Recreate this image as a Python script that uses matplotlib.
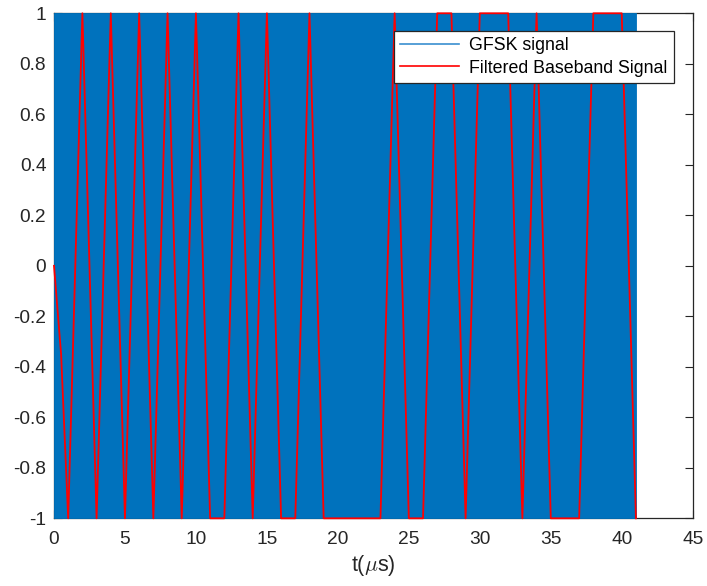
import matplotlib
matplotlib.use("Agg")
import matplotlib.pyplot as plt
from matplotlib.lines import Line2D

plt.rcParams['font.family'] = ['Liberation Sans', 'DejaVu Sans']
plt.rcParams['axes.unicode_minus'] = False
plt.rcParams['mathtext.fontset'] = 'cm'

# GFSK signal: dense carrier, visible as a solid band between its extremes
gfsk_time = [0, 41]
gfsk_max = [1, 1]
gfsk_min = [-1, -1]

# Filtered baseband signal (time in microseconds)
base_time = [0, 0.5, 1, 2, 3, 4, 5, 6, 7, 8, 9, 10, 11, 12, 13, 14, 15, 16, 17, 18, 19, 20,
             21, 22, 23, 24, 25, 26, 27, 28, 29, 30, 31, 32, 33, 34, 35, 36, 37, 38, 39, 40, 41]
base_vals = [0, -0.35, -1, 1, -1, 1, -1, 1, -1, 1, -1, 1, -1, -1, 1, -1, 1, -1, -1, 1, -1, -1,
             -1, -1, -1, 1, -1, -1, 1, 1, -1, 1, 1, 1, -1, 1, -1, -1, -1, 1, 1, 1, -1]

x_ticks = [0, 5, 10, 15, 20, 25, 30, 35, 40, 45]
y_ticks = [-1, -0.8, -0.6, -0.4, -0.2, 0, 0.2, 0.4, 0.6, 0.8, 1]
y_tick_labels = ['-1', '-0.8', '-0.6', '-0.4', '-0.2', '0', '0.2', '0.4', '0.6', '0.8', '1']

blue = '#0072BD'
red = '#FF0000'
dark = '#262626'

fig = plt.figure(figsize=(7.07, 5.86), dpi=100)
W, H = 707, 586
left, right, top, bottom = 54, 692.7, 13.3, 518.3
ax = fig.add_axes([left / W, (H - bottom) / H, (right - left) / W, (bottom - top) / H])

ax.fill_between(gfsk_time, gfsk_min, gfsk_max, color=blue, linewidth=0.6, edgecolor=blue,
                zorder=2)
ax.plot(base_time, base_vals, color=red, linewidth=1.3, clip_on=False, zorder=3)

ax.set_xlim(0, 45)
ax.set_ylim(-1, 1)
ax.set_xticks(x_ticks)
ax.set_xticklabels([str(v) for v in x_ticks])
ax.set_yticks(y_ticks)
ax.set_yticklabels(y_tick_labels)

ax.tick_params(direction='in', length=6, width=0.8, colors=dark, labelsize=13.8,
               top=True, right=True)
ax.tick_params(axis='x', pad=9)
ax.tick_params(axis='y', pad=5.5)
for s in ax.spines.values():
    s.set_color(dark)
    s.set_linewidth(0.9)
    s.set_zorder(1)

ax.set_xlabel(r't($\mu$s)', fontsize=15.5, color=dark, labelpad=4)

handles = [Line2D([], [], color='#3a8fd0', linewidth=1.2),
           Line2D([], [], color=red, linewidth=1.2)]
leg = ax.legend(handles, ['GFSK signal', 'Filtered Baseband Signal'],
                loc='upper right', bbox_to_anchor=(0.9707, 0.965), borderaxespad=0,
                fontsize=12.8, handlelength=3.3, handletextpad=0.6, labelspacing=0.3,
                borderpad=0.35, fancybox=False, framealpha=1, edgecolor='#262626')
leg.get_frame().set_linewidth(0.9)
leg.set_zorder(5)

fig.savefig('out.png', dpi=100)
